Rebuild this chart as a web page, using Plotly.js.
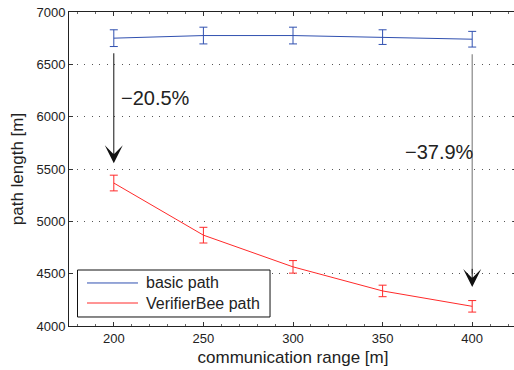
<!DOCTYPE html>
<html><head><meta charset="utf-8">
<script src="https://cdn.plot.ly/plotly-3.0.1.min.js"></script>
<style>html,body{margin:0;padding:0;overflow:hidden;background:#fff}</style>
</head><body>
<div id="chart" style="width:517px;height:370px"></div>
<script>
const ranges = [200, 250, 300, 350, 400];
const basicPath = [6750, 6775, 6775, 6760, 6740];
const basicErr = [80, 80, 80, 70, 75];
const beePath = [5366, 4868, 4565, 4335, 4188];
const beeErr = [75, 75, 60, 55, 55];
const yTicks = [4000, 4500, 5000, 5500, 6000, 6500, 7000];
const xTicks = [200, 250, 300, 350, 400];
const seriesNames = ['basic path', 'VerifierBee path'];
const seriesColors = ['#3050b0', '#ff2a2a'];

const font = 'Liberation Sans, Arial, sans-serif';
const traces = [
  {x: ranges, y: basicPath, name: seriesNames[0], mode: 'lines', type: 'scatter',
   line: {color: seriesColors[0], width: 1},
   error_y: {type: 'data', array: basicErr, visible: true, color: seriesColors[0], thickness: 1, width: 4}},
  {x: ranges, y: beePath, name: seriesNames[1], mode: 'lines', type: 'scatter',
   line: {color: seriesColors[1], width: 1},
   error_y: {type: 'data', array: beeErr, visible: true, color: seriesColors[1], thickness: 1, width: 4}}
];

// manual legend (paper coordinates)
const legRows = [0.137, 0.0732];
const shapes = [
  {type: 'rect', xref: 'paper', yref: 'paper', x0: 0.019, x1: 0.4487, y0: 0.0287, y1: 0.1783,
   line: {color: '#111', width: 1}, fillcolor: '#fff', layer: 'above'}
];
const legendAnn = [];
seriesNames.forEach((n, i) => {
  shapes.push({type: 'line', xref: 'paper', yref: 'paper', x0: 0.0402, x1: 0.154, y0: legRows[i], y1: legRows[i],
               line: {color: seriesColors[i], width: 1}, layer: 'above'});
  legendAnn.push({xref: 'paper', yref: 'paper', x: 0.1674, y: legRows[i], xanchor: 'left', yanchor: 'middle',
                  showarrow: false, text: n, font: {size: 16, family: font, color: '#222'}});
});

const layout = {
  width: 517, height: 370,
  margin: {l: 69, r: 0, t: 12, b: 44},
  paper_bgcolor: '#fff', plot_bgcolor: '#fff',
  font: {family: font, color: '#222', size: 13},
  showlegend: false,
  xaxis: {range: [175, 425], tickvals: xTicks, ticks: 'inside', ticklen: 4, tickcolor: '#333',
          showline: true, linecolor: '#222', linewidth: 1, mirror: 'ticks', showgrid: false, zeroline: false,
          tickfont: {size: 13}, minor: {ticks: 'inside', ticklen: 2, dtick: 10, tickcolor: '#666'},
          title: {text: 'communication range [m]', font: {size: 17}, standoff: 6}},
  yaxis: {range: [4000, 7000], tickvals: yTicks, ticks: 'inside', ticklen: 4, tickcolor: '#333',
          showline: true, linecolor: '#222', linewidth: 1, mirror: 'ticks',
          showgrid: true, gridcolor: '#555', griddash: '1px,6.5px', gridwidth: 1, zeroline: false,
          tickfont: {size: 13},
          title: {text: 'path length [m]', font: {size: 17}, standoff: 8}},
  shapes: shapes,
  annotations: [
    {x: 200, y: 5555, ax: 200, ay: 6620, xref: 'x', yref: 'y', axref: 'x', ayref: 'y',
     showarrow: true, arrowhead: 3, arrowsize: 3, arrowwidth: 1, arrowcolor: '#111', text: ''},
    {x: 400, y: 4500, ax: 400, ay: 6610, xref: 'x', yref: 'y', axref: 'x', ayref: 'y',
     showarrow: true, arrowhead: 0, arrowwidth: 1.2, arrowcolor: '#888', text: ''},
    {x: 400, y: 4372, ax: 400, ay: 4560, xref: 'x', yref: 'y', axref: 'x', ayref: 'y',
     showarrow: true, arrowhead: 3, arrowsize: 3, arrowwidth: 1, arrowcolor: '#111', text: ''},
    {x: 223, y: 6180, xref: 'x', yref: 'y', showarrow: false, text: '−20.5%',
     font: {size: 20, family: font, color: '#222'}},
    {x: 381.5, y: 5663, xref: 'x', yref: 'y', showarrow: false, text: '−37.9%',
     font: {size: 20, family: font, color: '#222'}}
  ].concat(legendAnn)
};
Plotly.newPlot('chart', traces, layout, {displayModeBar: false, staticPlot: true});
</script>
</body></html>
